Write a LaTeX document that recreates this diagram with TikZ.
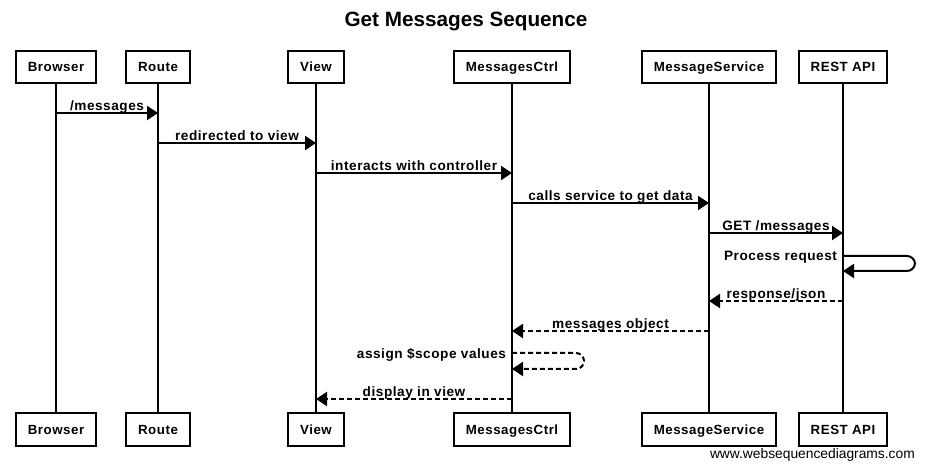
\documentclass[tikz,border=0pt]{standalone}
\usepackage{fontspec}
\setmainfont{Liberation Sans}
\newfontfamily\lblfont{Liberation Sans}[LetterSpace=4]
\usetikzlibrary{arrows.meta}
\tikzset{
  actor/.style={draw, line width=2bp, fill=white, minimum height=32bp, inner xsep=12bp,
    text height=9.5bp, text depth=0bp, font=\lblfont\bfseries\fontsize{13.3bp}{15bp}\selectfont},
  lifeline/.style={line width=2bp},
  msg/.style={line width=2bp, -{Triangle[length=11bp,width=14bp]}},
  ret/.style={msg, dash pattern=on 5bp off 3bp},
  lbl/.style={font=\lblfont\bfseries\fontsize{13.6bp}{15bp}\selectfont, inner sep=0pt},
  above lbl/.style={lbl, anchor=base, yshift=2bp},
  self lbl/.style={lbl, anchor=east, xshift=-5bp, yshift=-1.5bp},
}
\begin{document}
\begin{tikzpicture}[x=1bp,y=-1bp]
\useasboundingbox (0,0) rectangle (925,469);
% title
\node[font=\bfseries\fontsize{20.7bp}{24bp}\selectfont] (title) at (466,21) {Get Messages Sequence};
% actors top
\node[actor] (bT) at (56,67) {Browser};
\node[actor] (rT) at (158,67) {Route};
\node[actor] (vT) at (316,67) {View};
\node[actor] (cT) at (512,67) {MessagesCtrl};
\node[actor] (sT) at (709,67) {MessageService};
\node[actor] (aT) at (843,67) {REST API};
% actors bottom
\node[actor] (bB) at (56,429.5) {Browser};
\node[actor] (rB) at (158,429.5) {Route};
\node[actor] (vB) at (316,429.5) {View};
\node[actor] (cB) at (512,429.5) {MessagesCtrl};
\node[actor] (sB) at (709,429.5) {MessageService};
\node[actor] (aB) at (843,429.5) {REST API};
% lifelines
\foreach \a in {b,r,v,c,s,a}{
  \draw[lifeline] (\a T.south) -- (\a B.north);
}
% messages
\draw[msg] (bT |- 0,113) -- (rT |- 0,113) node[midway, above lbl] (l1) {/messages};
\draw[msg] (rT |- 0,143) -- (vT |- 0,143) node[midway, above lbl] (l2) {redirected to view};
\draw[msg] (vT |- 0,173) -- (cT |- 0,173) node[midway, above lbl] (l3) {interacts with controller};
\draw[msg] (cT |- 0,203) -- (sT |- 0,203) node[midway, above lbl] (l4) {calls service to get data};
\draw[msg] (sT |- 0,233) -- (aT |- 0,233) node[midway, above lbl] (l5) {GET /messages};
\draw[msg, rounded corners=8bp] (aT |- 0,256) node[self lbl] (l6) {Process request}
  -- ++(72,0) -- ++(0,15) -- (aT |- 0,271);
\draw[ret] (aT |- 0,301) -- (sT |- 0,301) node[midway, above lbl] (l7) {response/json};
\draw[ret] (sT |- 0,331) -- (cT |- 0,331) node[midway, above lbl] (l8) {messages object};
\draw[ret, rounded corners=8bp] (cT |- 0,353) node[self lbl] (l9) {assign \$scope values}
  -- ++(72,0) -- ++(0,16) -- (cT |- 0,369);
\draw[ret] (cT |- 0,399) -- (vT |- 0,399) node[midway, above lbl] (l10) {display in view};
% watermark
\node[anchor=east, inner sep=0pt, font=\fontsize{13.8bp}{16bp}\selectfont] (wm) at (915,455) {www.websequencediagrams.com};
\end{tikzpicture}
\end{document}
